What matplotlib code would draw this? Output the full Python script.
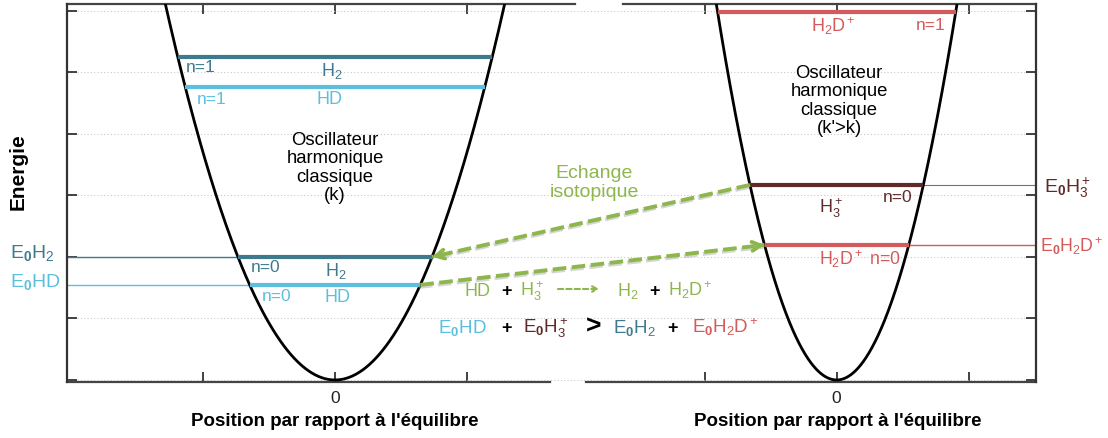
import numpy as np
import matplotlib
matplotlib.use('Agg')
import matplotlib.pyplot as plt
from matplotlib import patheffects as pe

plt.rcParams['font.family'] = ['Liberation Sans', 'DejaVu Sans']
plt.rcParams['mathtext.fontset'] = 'custom'
plt.rcParams['mathtext.rm'] = 'Liberation Sans'
plt.rcParams['mathtext.it'] = 'Liberation Sans:italic'
plt.rcParams['mathtext.bf'] = 'Liberation Sans:bold'
plt.rcParams['mathtext.default'] = 'regular'

# ---------------- data ----------------
well_centers = [0.0, 3.80]          # left well: H2 / HD ; right well: H3+ / H2D+
well_k = [3.7, 7.35]                # k and k' (k' > k)
h2_levels = [2.00, 5.25]            # n=0, n=1
hd_levels = [1.545, 4.76]           # n=0, n=1
h3p_levels = [3.17]                 # n=0
h2dp_levels = [2.195, 5.98]         # n=0, n=1
y_grid = [0, 1, 2, 3, 4, 5, 6]
x_tick_pos = [-1.0, 0.0, 1.0, 2.80, 3.80, 4.80]
x_tick_labels = ['', '0', '', '', '0', '']
x_lim = (-2.03, 5.31)
y_lim = (-0.033, 6.11)

# ---------------- styles ----------------
C_H2 = '#3d7a8e'
C_HD = '#5cbfdd'
C_H3 = '#5e2a2a'
C_H2D = '#d45b5b'
C_GREEN = '#8db64c'

W, H = 1108, 439
fig = plt.figure(figsize=(W / 100, H / 100), dpi=100)
ax = fig.add_axes([67 / W, 1 - 383 / H, (1036 - 67) / W, (383 - 5) / H])
ax.set_xlim(*x_lim)
ax.set_ylim(*y_lim)


def P(px, py):
    return px / W, 1 - py / H


def T(px, py, s, color='black', size=12, ha='center', va='center', **kw):
    fig.text(*P(px, py), s, color=color, fontsize=size, ha=ha, va=va, **kw)


# grid and ticks
ax.set_yticks(y_grid)
ax.set_yticklabels([])
ax.set_xticks(x_tick_pos)
ax.set_xticklabels(x_tick_labels, fontsize=12.5)
ax.grid(axis='y', ls=(0, (1, 2)), color='#c8c8c8', lw=0.8)
ax.set_axisbelow(True)
ax.tick_params(axis='y', direction='in', left=True, right=True, length=7, width=1.2, colors='#222222')
ax.tick_params(axis='x', direction='in', top=True, bottom=True, length=7, width=1.2, pad=6, colors='#222222')
for sp in ['left', 'right']:
    ax.spines[sp].set_linewidth(1.6)
    ax.spines[sp].set_color('#333333')
for sp in ['top', 'bottom']:
    ax.spines[sp].set_visible(False)


# frame with gaps in the middle
def fx(px):
    return (px - 67) / (1036 - 67)


for (a, b) in [(0, fx(575)), (fx(623), 1)]:
    ax.plot([a, b], [1, 1], transform=ax.transAxes, color='#444444', lw=1.6, clip_on=False)
for (a, b) in [(0, fx(550)), (fx(586), 1)]:
    ax.plot([a, b], [0, 0], transform=ax.transAxes, color='#444444', lw=1.6, clip_on=False)

# parabolas
for c, k in zip(well_centers, well_k):
    w = np.sqrt(y_lim[1] / k) * 1.02
    xs = np.linspace(c - w, c + w, 400)
    ax.plot(xs, k * (xs - c) ** 2, color='black', lw=2.0, zorder=3)


def level(ci, E, color, lw=3.0):
    c, k = well_centers[ci], well_k[ci]
    h = np.sqrt(E / k)
    ax.plot([c - h, c + h], [E, E], color=color, lw=lw, solid_capstyle='butt', zorder=4)
    return c - h, c + h


h2_0 = level(0, h2_levels[0], C_H2)
h2_1 = level(0, h2_levels[1], C_H2)
hd_0 = level(0, hd_levels[0], C_HD)
hd_1 = level(0, hd_levels[1], C_HD)
h3_0 = level(1, h3p_levels[0], C_H3)
h2d_0 = level(1, h2dp_levels[0], C_H2D)
h2d_1 = level(1, h2dp_levels[1], C_H2D)

# thin reference lines to the frame
ax.plot([x_lim[0], h2_0[0]], [h2_levels[0]] * 2, color=C_H2, lw=1.0, zorder=2)
ax.plot([x_lim[0], hd_0[0]], [hd_levels[0]] * 2, color=C_HD, lw=1.0, zorder=2)
ax.plot([h3_0[1], x_lim[1]], [h3p_levels[0]] * 2, color=C_H3, lw=0.8, alpha=0.7, zorder=2)
ax.plot([h2d_0[1], x_lim[1]], [h2dp_levels[0]] * 2, color=C_H2D, lw=1.0, zorder=2)

# isotopic exchange arrows
shadow = [pe.SimpleLineShadow(offset=(-1, -1.5), shadow_color='#888888', alpha=0.35), pe.Normal()]


def dashed_arrow(x0, y0, x1, y1):
    ax.plot([x0, x1], [y0, y1], color=C_GREEN, lw=2.8, dashes=(3.5, 1.4),
            zorder=5, path_effects=shadow)
    ax.annotate('', xy=(x1, y1), xytext=(x1 - (x1 - x0) * 0.02, y1 - (y1 - y0) * 0.02),
                arrowprops=dict(arrowstyle='->,head_length=0.6,head_width=0.32', color=C_GREEN,
                                lw=2.8, shrinkA=0, shrinkB=0), zorder=6)


dashed_arrow(h3_0[0], h3p_levels[0], h2_0[1], h2_levels[0])
dashed_arrow(hd_0[1], hd_levels[0], h2d_0[0], h2dp_levels[0])

# ---------------- texts ----------------
osc = dict(size=13.3, linespacing=1.1)
T(335, 168, 'Oscillateur\nharmonique\nclassique\n(k)', **osc)
T(839, 101, "Oscillateur\nharmonique\nclassique\n(k'>k)", **osc)

T(201, 68, 'n=1', C_H2, 12.5)
T(332, 71, 'H$_2$', C_H2, 13)
T(212, 99, 'n=1', C_HD, 12.5)
T(329, 99, 'HD', C_HD, 13)
T(266, 268, 'n=0', C_H2, 12.5)
T(336, 271, 'H$_2$', C_H2, 13)
T(277, 297, 'n=0', C_HD, 12.5)
T(338, 298, 'HD', C_HD, 13)

T(10, 258, r'E$_\mathbf{0}$H$_2$', C_H2, 14, ha='left', va='baseline')
T(10, 287, r'E$_\mathbf{0}$HD', C_HD, 14, ha='left', va='baseline')

T(833, 26, 'H$_2$D$^+$', C_H2D, 13)
T(931, 26, 'n=1', C_H2D, 12.5)
T(898, 198, 'n=0', C_H3, 12.5)
T(831, 208, 'H$_3^+$', C_H3, 13)
T(860, 259, 'H$_2$D$^+$ n=0', C_H2D, 12.8)
T(1044, 193, r'E$_\mathbf{0}$H$_3^+$', C_H3, 14, ha='left', va='baseline')
T(1040, 252, r'E$_\mathbf{0}$H$_2$D$^+$', C_H2D, 12.8, ha='left', va='baseline')

T(594, 183, 'Echange\nisotopique', C_GREEN, 14, linespacing=1.1)

# reaction line
r1 = 296
T(465, r1, 'HD', C_GREEN, 13, ha='left', va='baseline')
T(507, r1, '+', 'black', 13, va='baseline', fontweight='bold')
T(520, r1, 'H$_3^+$', C_GREEN, 13, ha='left', va='baseline')
ax.annotate('', xy=P(599, 290), xytext=P(558, 290), xycoords='figure fraction',
            textcoords='figure fraction',
            arrowprops=dict(arrowstyle='->,head_length=0.35,head_width=0.2', color=C_GREEN,
                            lw=1.5, ls=(0, (2.5, 1.5)), shrinkA=0, shrinkB=0))
T(617, r1, 'H$_2$', C_GREEN, 13, ha='left', va='baseline')
T(654, r1, '+', 'black', 13, va='baseline', fontweight='bold')
T(668, r1, 'H$_2$D$^+$', C_GREEN, 13, ha='left', va='baseline')

# energy comparison line
r2 = 333
T(438, r2, r'E$_\mathbf{0}$HD', C_HD, 13.5, ha='left', va='baseline')
T(506, r2, '+', 'black', 13, va='baseline', fontweight='bold')
T(523, r2, r'E$_\mathbf{0}$H$_3^+$', C_H3, 13.5, ha='left', va='baseline')
T(594, r2 + 1, '>', 'black', 19, va='baseline', fontweight='bold')
T(613, r2, r'E$_\mathbf{0}$H$_2$', C_H2, 13.5, ha='left', va='baseline')
T(673, r2, '+', 'black', 13, va='baseline', fontweight='bold')
T(692, r2, r'E$_\mathbf{0}$H$_2$D$^+$', C_H2D, 13.5, ha='left', va='baseline')

# axis titles
T(18, 172, 'Energie', size=15, rotation=90, fontweight='bold')
T(335, 422, "Position par rapport à l'équilibre", size=13.5, fontweight='bold')
T(838, 422, "Position par rapport à l'équilibre", size=13.5, fontweight='bold')

fig.savefig('out.png', dpi=100)
